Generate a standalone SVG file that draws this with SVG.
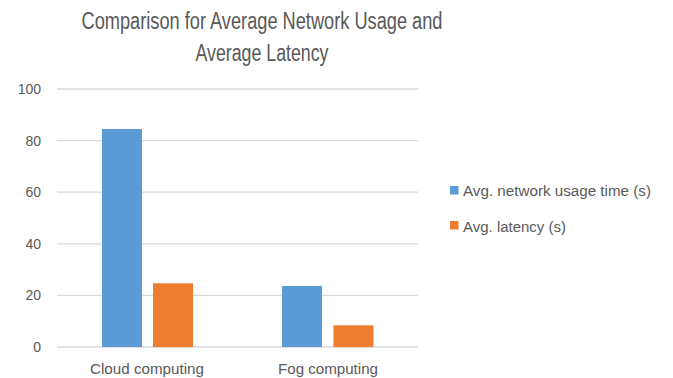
<svg xmlns="http://www.w3.org/2000/svg" width="673" height="378" viewBox="0 0 673 378">
<style>
.t{font-family:"Liberation Sans","Open Sans",sans-serif;fill:#595959}
.title{font-size:23px}
.ax{font-size:14px;text-anchor:end}
.cat{font-size:14px;text-anchor:middle}
.leg{font-size:14px}
.grid{stroke:#D9D9D9;stroke-width:1.3}
.b{fill:#5B9BD5}
.o{fill:#ED7D31}
</style>
<rect width="673" height="378" fill="#fff"/>
<g id="title">
<text class="t title" x="262" y="29" text-anchor="middle" textLength="361" lengthAdjust="spacingAndGlyphs">Comparison for Average Network Usage and</text>
<text class="t title" x="262" y="61" text-anchor="middle" textLength="133" lengthAdjust="spacingAndGlyphs">Average Latency</text>
</g>
<g id="gridlines">
<line class="grid" x1="57" y1="89" x2="418" y2="89"/>
<line class="grid" x1="57" y1="140.6" x2="418" y2="140.6"/>
<line class="grid" x1="57" y1="192.2" x2="418" y2="192.2"/>
<line class="grid" x1="57" y1="243.8" x2="418" y2="243.8"/>
<line class="grid" x1="57" y1="295.4" x2="418" y2="295.4"/>
<line class="grid" x1="57" y1="347" x2="418" y2="347"/>
</g>
<g id="axis-labels">
<text class="t ax" x="41" y="94">100</text>
<text class="t ax" x="41" y="145.6">80</text>
<text class="t ax" x="41" y="197.2">60</text>
<text class="t ax" x="41" y="248.8">40</text>
<text class="t ax" x="41" y="300.4">20</text>
<text class="t ax" x="41" y="352">0</text>
</g>
<g id="cloud">
<rect class="b" x="102" y="129" width="40" height="218"/>
<rect class="o" x="153" y="283.3" width="40" height="63.7"/>
<text class="t cat" x="147" y="374" textLength="114" lengthAdjust="spacingAndGlyphs">Cloud computing</text>
</g>
<g id="fog">
<rect class="b" x="282" y="286" width="40" height="61"/>
<rect class="o" x="333.5" y="325.3" width="40" height="21.7"/>
<text class="t cat" x="328" y="374" textLength="100" lengthAdjust="spacingAndGlyphs">Fog computing</text>
</g>
<g id="legend">
<rect class="b" x="450" y="186" width="8.5" height="8.5"/>
<text class="t leg" x="463" y="195.5" textLength="188" lengthAdjust="spacingAndGlyphs">Avg. network usage time (s)</text>
<rect class="o" x="450" y="221" width="8.5" height="8.5"/>
<text class="t leg" x="463" y="231.5" textLength="103" lengthAdjust="spacingAndGlyphs">Avg. latency (s)</text>
</g>
</svg>
